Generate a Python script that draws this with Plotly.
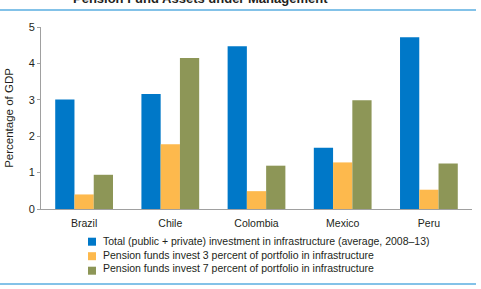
import plotly.graph_objects as go

countries = ["Brazil", "Chile", "Colombia", "Mexico", "Peru"]
total_inv = [3.01, 3.16, 4.47, 1.68, 4.72]
pf_3pct = [0.40, 1.78, 0.49, 1.28, 0.53]
pf_7pct = [0.94, 4.15, 1.19, 2.99, 1.25]
series_names = [
    "Total (public + private) investment in infrastructure (average, 2008–13)",
    "Pension funds invest 3 percent of portfolio in infrastructure",
    "Pension funds invest 7 percent of portfolio in infrastructure",
]
colors = ["#0078C8", "#FDB94D", "#8D9657"]
y_ticks = [0, 1, 2, 3, 4, 5]

FONT = "Liberation Sans, Arial, sans-serif"
TXT = "#231F20"

fig = go.Figure()
for name, vals, c in zip(series_names, [total_inv, pf_3pct, pf_7pct], colors):
    fig.add_trace(go.Bar(x=countries, y=vals, name=name, marker=dict(color=c, line=dict(width=0))))

W, H = 481, 289
ml, mr, mt, mb = 41, 9, 27, 80
pw = W - ml - mr
ph = H - mt - mb

def px_x(x):
    return (x - ml) / pw

def px_y(y):
    return 1 - (y - mt) / ph

shapes = [
    dict(type="line", xref="paper", yref="paper", x0=px_x(0), x1=px_x(476),
         y0=px_y(10), y1=px_y(10), line=dict(color="#5AAEE0", width=1.5)),
    dict(type="line", xref="paper", yref="paper", x0=px_x(0), x1=px_x(476),
         y0=px_y(284), y1=px_y(284), line=dict(color="#5AAEE0", width=1.5)),
]
row_h = 14.5
first_row = 241.7
for i, c in enumerate(colors):
    cy = first_row + i * row_h
    shapes.append(dict(type="rect", xref="paper", yref="paper",
                       x0=px_x(88), x1=px_x(96), y0=px_y(cy - 4), y1=px_y(cy + 4),
                       fillcolor=c, line=dict(width=0)))

annotations = [
    dict(text="<b>Pension Fund Assets under Management</b>", xref="paper", yref="paper",
         x=px_x(200), y=px_y(8), xanchor="center", yanchor="bottom", showarrow=False,
         font=dict(family=FONT, size=13, color=TXT)),
    dict(text="<br>".join(series_names), xref="paper", yref="paper",
         x=px_x(101), y=px_y(first_row - 8.3), xanchor="left", yanchor="top", align="left",
         showarrow=False, font=dict(family=FONT, size=10.5, color=TXT)),
]

fig.update_layout(
    width=W, height=H,
    margin=dict(l=ml, r=mr, t=mt, b=mb, pad=0, autoexpand=False),
    paper_bgcolor="white", plot_bgcolor="white",
    barmode="group", bargap=0.33, bargroupgap=0,
    font=dict(family=FONT, size=10.5, color=TXT),
    showlegend=False,
    xaxis=dict(
        showline=True, linecolor="#A0A0A0", linewidth=1,
        ticks="", showgrid=False, tickfont=dict(size=10.5, color=TXT),
        ticklabelstandoff=4,
    ),
    yaxis=dict(
        range=[0, 5], tickvals=y_ticks, showline=True, linecolor="#A0A0A0", linewidth=1,
        ticks="outside", ticklen=3, tickcolor="#A0A0A0", showgrid=False, zeroline=False,
        title=dict(text="Percentage of GDP", font=dict(size=11.5, color=TXT), standoff=12),
        tickfont=dict(size=11, color=TXT),
    ),
    shapes=shapes,
    annotations=annotations,
)

fig.write_html("out.html")
